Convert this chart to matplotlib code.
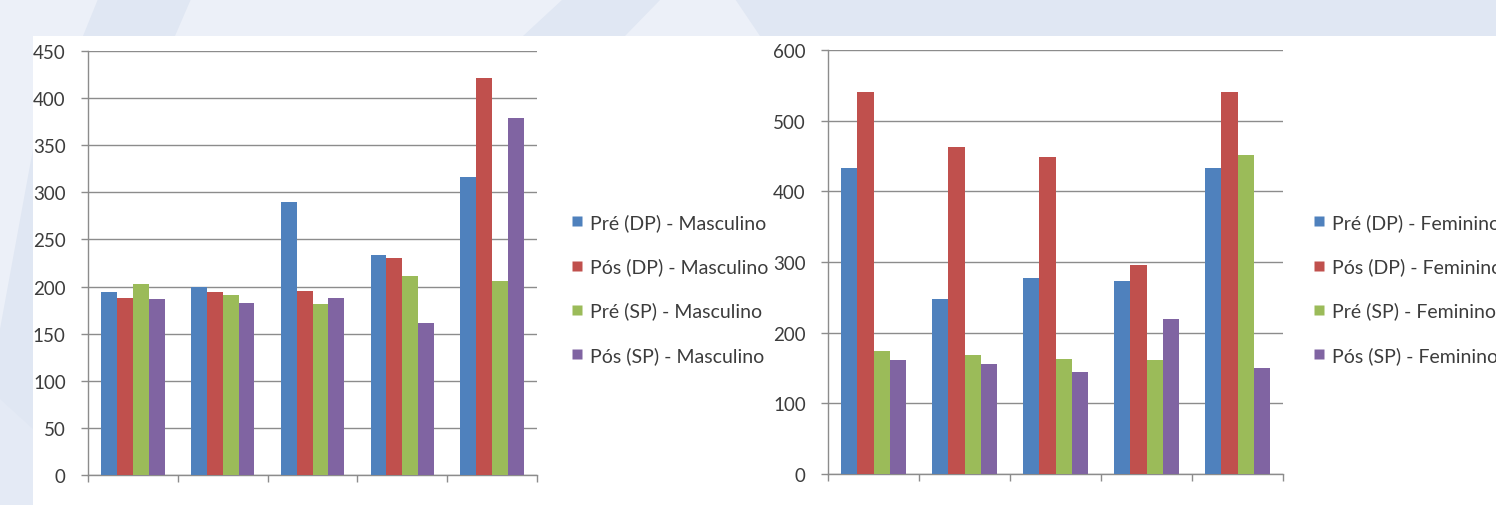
import matplotlib
matplotlib.use("Agg")
import matplotlib.pyplot as plt
from matplotlib.lines import Line2D
from matplotlib.patches import Polygon, Rectangle
import numpy as np

plt.rcParams['font.family'] = ['Lato', 'DejaVu Sans']

# Series values per group (five groups each)
masc_pre_dp = [194, 199, 290, 234, 316]
masc_pos_dp = [188, 194, 195, 230, 421]
masc_pre_sp = [203, 191, 181, 211, 206]
masc_pos_sp = [187, 183, 188, 161, 379]

fem_pre_dp = [433, 248, 277, 273, 433]
fem_pos_dp = [540, 463, 448, 296, 540]
fem_pre_sp = [174, 169, 163, 161, 452]
fem_pos_sp = [161, 156, 145, 219, 150]

masc_labels = ["Pré (DP) - Masculino", "Pós (DP) - Masculino",
               "Pré (SP) - Masculino", "Pós (SP) - Masculino"]
fem_labels = ["Pré (DP) - Feminino", "Pós (DP) - Feminino",
              "Pré (SP) - Feminino", "Pós (SP) - Feminino"]

colors = ["#4F81BD", "#C0504D", "#9BBB59", "#8064A2"]
grid_color = "#8C8C8C"
text_color = "#3C3C3C"

W, H = 1496, 506
fig = plt.figure(figsize=(W / 100, H / 100), dpi=100)
fig.patch.set_facecolor("#E0E7F3")


def px_poly(points, color):
    """Polygon given in pixel coordinates (origin top-left)."""
    pts = [(x / W, 1 - y / H) for x, y in points]
    fig.patches.append(Polygon(pts, closed=True, transform=fig.transFigure,
                               facecolor=color, edgecolor="none", zorder=-3))


light = "#ECF0F8"
# slide background stripes
px_poly([(0, 0), (98, 0), (83, 37), (33, 37), (33, 60), (0, 60)], light)
px_poly([(191, 0), (563, 0), (523, 37), (175, 37)], light)
px_poly([(661, 0), (735, 0), (760, 37), (625, 37)], light)
px_poly([(0, 60), (33, 60), (33, 150), (0, 330)], light)
px_poly([(0, 400), (33, 430), (33, 506), (0, 506)], "#E4EAF5")
# white slide content area
fig.patches.append(Rectangle((33 / W, 0), 1 - 33 / W, 1 - 37 / H,
                             transform=fig.transFigure, facecolor="white",
                             edgecolor="none", zorder=-2))


def draw_panel(rect, series, labels, ymax, ystep, leg_x):
    ax = fig.add_axes(rect)
    ax.set_facecolor("none")
    n = len(series[0])
    x = np.arange(n)
    bw = 0.177
    for i, (vals, c) in enumerate(zip(series, colors)):
        ax.bar(x + (i - 1.5) * bw, vals, width=bw, color=c,
               edgecolor="none", zorder=3)
    ax.set_xlim(-0.5, n - 0.5)
    ax.set_ylim(0, ymax)
    ax.set_yticks(np.arange(0, ymax + 1, ystep))
    ax.yaxis.grid(True, color=grid_color, linewidth=1.0, zorder=1)
    ax.set_axisbelow(True)
    ax.set_xticks(np.arange(-0.5, n, 1.0))
    ax.set_xticklabels([])
    for s in ["top", "right"]:
        ax.spines[s].set_visible(False)
    for s in ["left", "bottom"]:
        ax.spines[s].set_color(grid_color)
        ax.spines[s].set_linewidth(1.0)
    ax.tick_params(axis="both", colors=grid_color, length=5, width=1.0,
                   labelcolor=text_color, labelsize=13.5)
    ax.tick_params(axis="y", pad=11)
    handles = [Line2D([0], [0], marker="s", linestyle="none", markersize=7.5,
                      markerfacecolor=c, markeredgecolor="none")
               for c in colors]
    fig.legend(handles, labels, loc="center left",
               bbox_to_anchor=(leg_x / W, 1 - 289.5 / H), frameon=False,
               fontsize=14, labelcolor=text_color, handlelength=0.6,
               handletextpad=0.4, labelspacing=1.35, borderpad=0,
               borderaxespad=0)
    return ax


draw_panel([88 / W, 30 / H, 449 / W, 424 / H],
           [masc_pre_dp, masc_pos_dp, masc_pre_sp, masc_pos_sp],
           masc_labels, 450, 50, 571)
draw_panel([828 / W, 31 / H, 455 / W, 424 / H],
           [fem_pre_dp, fem_pos_dp, fem_pre_sp, fem_pos_sp],
           fem_labels, 600, 100, 1313)

fig.savefig("out.png", dpi=100)
